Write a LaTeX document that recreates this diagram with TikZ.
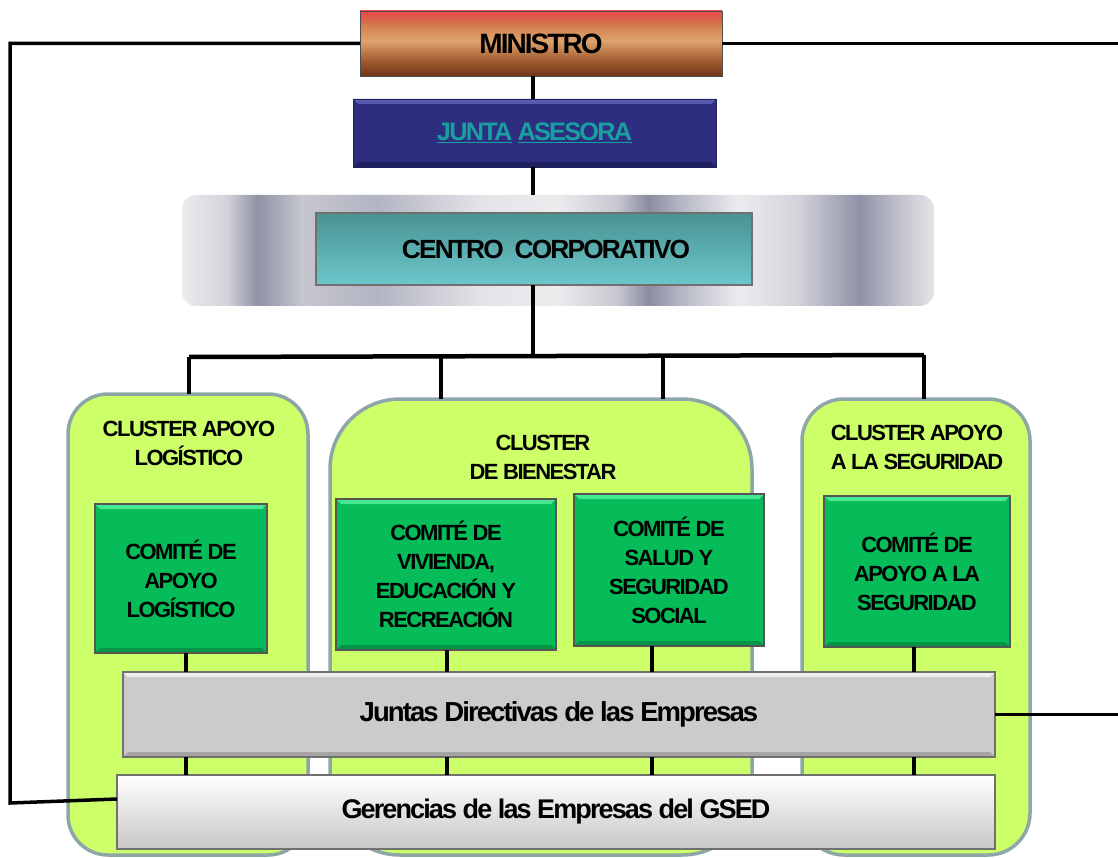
\documentclass[tikz,border=0pt]{standalone}
\usepackage{fontspec}
\setmainfont{Liberation Sans}[LetterSpace=-7]
\usetikzlibrary{calc}
\definecolor{clgreen}{HTML}{CDFF68}
\definecolor{clborder}{HTML}{8FA6A8}
\definecolor{comgreen}{HTML}{06BC58}
\definecolor{comtop}{HTML}{45E890}
\definecolor{combot}{HTML}{049448}
\definecolor{comborder}{HTML}{555555}
\definecolor{jablue}{HTML}{2D2E80}
\definecolor{jatop}{HTML}{5A5BB0}
\definecolor{jabot}{HTML}{202160}
\definecolor{jatext}{HTML}{18A0A0}
\definecolor{jdgray}{HTML}{CBCBCB}
\definecolor{jdtop}{HTML}{EDEDED}
\definecolor{jdbot}{HTML}{A5A5A5}
\definecolor{boxborder}{HTML}{707070}
\definecolor{tealtop}{HTML}{4A9292}
\definecolor{tealbot}{HTML}{6CC8CC}
\definecolor{minA}{HTML}{6E3418}
\definecolor{minB}{HTML}{A25C30}
\definecolor{minC}{HTML}{DEA36E}
\definecolor{minD}{HTML}{D68652}
\definecolor{minE}{HTML}{D8604A}
\definecolor{minF}{HTML}{EC4A4A}
\definecolor{sA}{HTML}{ECECEF}
\definecolor{sB}{HTML}{D2D2DA}
\definecolor{sC}{HTML}{9092A6}
\definecolor{sD}{HTML}{C6C6D0}
\definecolor{sE}{HTML}{B2B4C2}
\definecolor{sF}{HTML}{E4E4E8}
\definecolor{sG}{HTML}{8A8CA0}
\pgfdeclareverticalshading{minsh}{100bp}{color(0bp)=(minA); color(25bp)=(minA); color(37bp)=(minB); color(52bp)=(minC); color(62bp)=(minD); color(69bp)=(minE); color(75bp)=(minF); color(100bp)=(minF)}
\pgfdeclarehorizontalshading{silversh}{100bp}{color(0bp)=(sA); color(25bp)=(sA); color(28bp)=(sB); color(30bp)=(sC); color(33bp)=(sD); color(38bp)=(sE); color(45bp)=(sF); color(50bp)=(sA); color(54bp)=(sD); color(56bp)=(sG); color(58bp)=(sE); color(62bp)=(sA); color(66bp)=(sB); color(70bp)=(sC); color(73bp)=(sD); color(75bp)=(sF); color(100bp)=(sF)}
\tikzset{
  conn/.style={line width=3.5pt, black},
  busline/.style={line width=4.5pt, black},
  bev/.style n args={3}{path picture={
    \fill[#1] (path picture bounding box.north west) -- (path picture bounding box.north east)
      -- ([shift={(-#3,#3)}]path picture bounding box.north east) -- ([shift={(#3,#3)}]path picture bounding box.north west) -- cycle;
    \fill[#2] (path picture bounding box.south west) -- (path picture bounding box.south east)
      -- ([shift={(-#3,-#3)}]path picture bounding box.south east) -- ([shift={(#3,-#3)}]path picture bounding box.south west) -- cycle;
  }},
  plainbox/.style={inner sep=0pt, outer sep=0pt, align=center},
  clusterbox/.style={plainbox, draw=clborder, line width=3.5pt, fill=clgreen},
  combox/.style={plainbox, draw=comborder, line width=1.5pt, fill=comgreen, bev={comtop}{combot}{5},
    font=\fontsize{22}{29}\selectfont\bfseries},
  cllabel/.style={plainbox, font=\fontsize{22}{29}\selectfont\bfseries},
  barbox/.style={plainbox, draw=boxborder, line width=1.5pt},
}
\begin{document}
\begin{tikzpicture}[x=1pt,y=-1pt]
\useasboundingbox (0,0) rectangle (1118,858);

% clusters
\node[clusterbox, rounded corners=40pt, minimum width=240, minimum height=461] (cl1) at (188,624.5) {};
\node[clusterbox, rounded corners=70pt, minimum width=422, minimum height=456] (cl2) at (541,627) {};
\node[clusterbox, rounded corners=42pt, minimum width=228, minimum height=456] (cl3) at (916,627) {};

% coordinates
\coordinate (lt) at (10,43.5);
\coordinate (lb) at (10,803);
\coordinate (rt) at (1118,43.5);
\coordinate (sp) at (533,0);
\coordinate (bm) at (533,356);
\coordinate (b1) at (189,357);
\coordinate (b2) at (441,356);
\coordinate (b3) at (663,356);
\coordinate (b4) at (924,355);
\coordinate (v1) at (186,0);
\coordinate (v2) at (447,0);
\coordinate (v3) at (652,0);
\coordinate (v4) at (914,0);

% upper boxes
\node[plainbox, shading=minsh, draw=boxborder!70!black, line width=0.8pt, minimum width=362, minimum height=65,
  font=\fontsize{28}{30}\selectfont\bfseries] (min) at (541,43.5) {MINISTRO};
\node[plainbox, fill=jablue, bev={jatop}{jabot}{5}, draw=jabot, line width=0.8pt, minimum width=363, minimum height=68,
  font=\fontsize{25.3}{30}\selectfont\bfseries, text=jatext] (ja) at (534.5,133) {\underline{JUNTA}~\underline{ASESORA}};
\node[plainbox, shading=silversh, rounded corners=14pt, minimum width=752, minimum height=111] (pan) at (558,250.5) {};
\node[plainbox, top color=tealtop, bottom color=tealbot, draw=boxborder, line width=1.5pt, minimum width=436, minimum height=72,
  font=\fontsize{26.3}{30}\selectfont\bfseries] (cc) at (534,249) {\hspace*{24pt}CENTRO\ \ CORPORATIVO};

% connectors
\draw[conn] (min.east) -- (rt);
\draw[conn] (min.south -| sp) -- (ja.north -| sp);
\draw[conn] (ja.south -| sp) -- (pan.north -| sp);
\draw[conn] (cc.south -| sp) -- (bm);
\draw[busline] (b1) -- (b4);
\draw[conn] (b1) -- (b1 |- cl1.north);
\draw[conn] (b2) -- (b2 |- cl2.north);
\draw[conn] (b3) -- (b3 |- cl2.north);
\draw[conn] (b4) -- (b4 |- cl3.north);

% cluster labels
\node[cllabel] (l1) at (189,443) {CLUSTER APOYO\\LOGÍSTICO};
\node[cllabel] (l2) at (543,457.5) {CLUSTER\\DE BIENESTAR};
\node[cllabel] (l3) at (917,447.5) {CLUSTER APOYO\\A LA SEGURIDAD};

% committees
\node[combox, minimum width=172, minimum height=149] (c1) at (181,578.5) {COMITÉ DE\\APOYO\\LOGÍSTICO};
\node[combox, minimum width=220, minimum height=151] (c2) at (446,574.5) {COMITÉ DE\\VIVIENDA,\\EDUCACIÓN Y\\RECREACIÓN};
\node[combox, minimum width=190, minimum height=152] (c3) at (669,570) {COMITÉ DE\\SALUD Y\\SEGURIDAD\\SOCIAL};
\node[combox, minimum width=186, minimum height=151] (c4) at (917,571.5) {COMITÉ DE\\APOYO A LA\\SEGURIDAD};

% bars
\node[barbox, fill=jdgray, bev={jdtop}{jdbot}{5}, minimum width=872, minimum height=85,
  font=\fontsize{27.5}{30}\selectfont\bfseries] (jd) at (559,714.5) {Juntas Directivas de las Empresas};
\node[barbox, top color=white, bottom color=black!22, minimum width=878, minimum height=74,
  font=\fontsize{27}{30}\selectfont\bfseries] (ger) at (556,812) {Gerencias de las Empresas del GSED};

\draw[conn] (min.west) -- (lt) -- (lb) -- ($(ger.west)+(0,-13)$);
\draw[conn] (jd.east) -- (jd.east -| rt);
\draw[conn] (c1.south -| v1) -- (jd.north -| v1);
\draw[conn] (c2.south -| v2) -- (jd.north -| v2);
\draw[conn] (c3.south -| v3) -- (jd.north -| v3);
\draw[conn] (c4.south -| v4) -- (jd.north -| v4);
\draw[conn] (jd.south -| v1) -- (ger.north -| v1);
\draw[conn] (jd.south -| v2) -- (ger.north -| v2);
\draw[conn] (jd.south -| v3) -- (ger.north -| v3);
\draw[conn] (jd.south -| v4) -- (ger.north -| v4);
\end{tikzpicture}
\end{document}
